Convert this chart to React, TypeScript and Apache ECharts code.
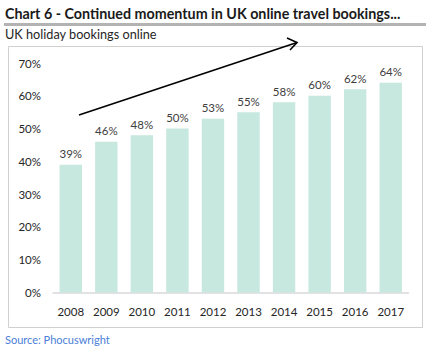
import React, { useEffect, useRef } from "react";
import * as echarts from "echarts";

const years = ["2008", "2009", "2010", "2011", "2012", "2013", "2014", "2015", "2016", "2017"];
const shareOnline = [39, 46, 48, 50, 53, 55, 58, 60, 62, 64];
const titleText = "Chart 6 - Continued momentum in UK online travel bookings...";
const subtitleText = "UK holiday bookings online";
const sourceText = "Source: Phocuswright";

export default function App() {
  const ref = useRef<HTMLDivElement>(null);
  useEffect(() => {
    document.body.style.margin = "0";
    const chart = echarts.init(ref.current!, null, { renderer: "svg" });
    const font = "Lato, 'Open Sans', sans-serif";
    chart.setOption({
      animation: false,
      backgroundColor: "#ffffff",
      textStyle: { fontFamily: font },
      grid: { left: 53, right: 20.5, top: 63, bottom: 62.5, containLabel: false },
      xAxis: {
        type: "category",
        data: years,
        axisLine: { show: true, lineStyle: { color: "#d9d9d9", width: 1.5 } },
        axisTick: { show: false },
        axisLabel: { color: "#262626", fontSize: 11.5, margin: 13, fontFamily: font },
      },
      yAxis: {
        type: "value",
        min: 0,
        max: 70,
        interval: 10,
        splitLine: { show: false },
        axisLine: { show: false },
        axisTick: { show: false },
        axisLabel: { color: "#262626", fontSize: 11.5, margin: 12, fontFamily: font, formatter: "{value}%" },
      },
      series: [
        {
          type: "bar",
          data: shareOnline,
          barCategoryGap: "37%",
          itemStyle: { color: "#c6e8df" },
          label: {
            show: true,
            position: "top",
            distance: 5,
            color: "#404040",
            fontSize: 11.5,
            fontFamily: font,
            formatter: "{c}%",
          },
        },
      ],
      graphic: [
        {
          type: "text",
          left: 5,
          top: 6,
          style: { text: titleText, fontSize: 14.3, fontWeight: "bold", fill: "#1a1a1a", fontFamily: font },
        },
        {
          type: "rect",
          shape: { x: 4, y: 23, width: 422, height: 3 },
          style: { fill: "#b3b3b3" },
        },
        {
          type: "text",
          left: 5,
          top: 27.5,
          style: { text: subtitleText, fontSize: 12.7, fill: "#262626", fontFamily: font },
        },
        {
          type: "rect",
          shape: { x: 8.5, y: 46.5, width: 414, height: 281 },
          style: { fill: "none", stroke: "#d0d0d0", lineWidth: 1 },
          z: -1,
        },
        {
          type: "line",
          shape: { x1: 79, y1: 115, x2: 297, y2: 42.5 },
          style: { stroke: "#000000", lineWidth: 1.6 },
          z: 10,
        },
        {
          type: "polyline",
          shape: { points: [[287, 38], [297, 42.5], [290, 50]] },
          style: { stroke: "#000000", lineWidth: 1.6, fill: "none" },
          z: 10,
        },
        {
          type: "text",
          left: 5,
          top: 334,
          style: { text: sourceText, fontSize: 11, fill: "#4a80d8", fontFamily: font },
        },
      ],
    });
    return () => chart.dispose();
  }, []);
  return <div ref={ref} style={{ width: 429, height: 355 }} />;
}
